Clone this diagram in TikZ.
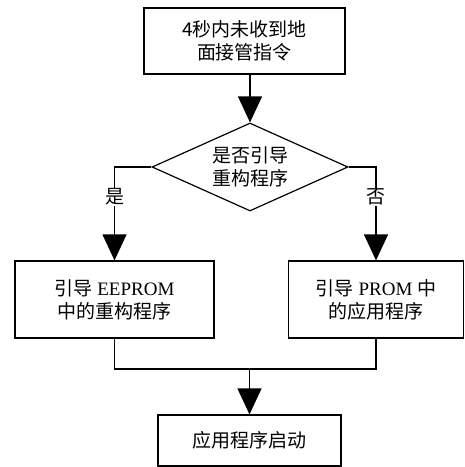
\documentclass[tikz,border=0pt]{standalone}
\usepackage{fontspec}
\setmainfont{Liberation Serif}
\newfontfamily\cjk{Noto Sans CJK SC}
\usetikzlibrary{arrows.meta,shapes.geometric}
\begin{document}
\begin{tikzpicture}[x=1pt,y=-1pt,
  every node/.style={font=\fontsize{19pt}{23pt}\selectfont},
  box/.style={draw,line width=1.2pt,rectangle,inner sep=0pt,align=center},
  dec/.style={draw,line width=1.2pt,diamond,inner sep=0pt,aspect=2.23,
    minimum width=196pt,minimum height=88pt,align=center},
  conn/.style={line width=1.2pt},
  arr/.style={line width=1.2pt,-{Triangle[width=24pt,length=26pt]}},
  lab/.style={fill=white,inner sep=1pt}]
\useasboundingbox (0,0) rectangle (465,467);
\node[box,minimum width=201pt,minimum height=66pt] (top) at (244.5,41)
  {\cjk 4秒内未收到地\\\cjk 面接管指令};
\node[dec] (dia) at (250,167) {\cjk 是否引导\\\cjk 重构程序};
\node[box,minimum width=199pt,minimum height=77pt] (L) at (114.5,299.5)
  {{\cjk 引导} EEPROM\\\cjk 中的重构程序};
\node[box,minimum width=175pt,minimum height=77pt] (R) at (376,299.5)
  {{\cjk 引导} PROM {\cjk 中}\\\cjk 的应用程序};
\node[box,minimum width=183pt,minimum height=51pt] (B) at (249.5,440.5)
  {\cjk 应用程序启动};
\coordinate (j) at (249.5,369);
\draw[arr] (top.south -| dia.north) -- (dia.north);
\draw[arr] (dia.west) -| node[lab,pos=0.66]{\cjk 是} (L.north);
\draw[arr] (dia.east) -| node[lab,pos=0.66]{\cjk 否} (R.north);
\draw[conn] (L.south) |- (j) -| (R.south);
\draw[arr] (j) -- (B.north);
\end{tikzpicture}
\end{document}
